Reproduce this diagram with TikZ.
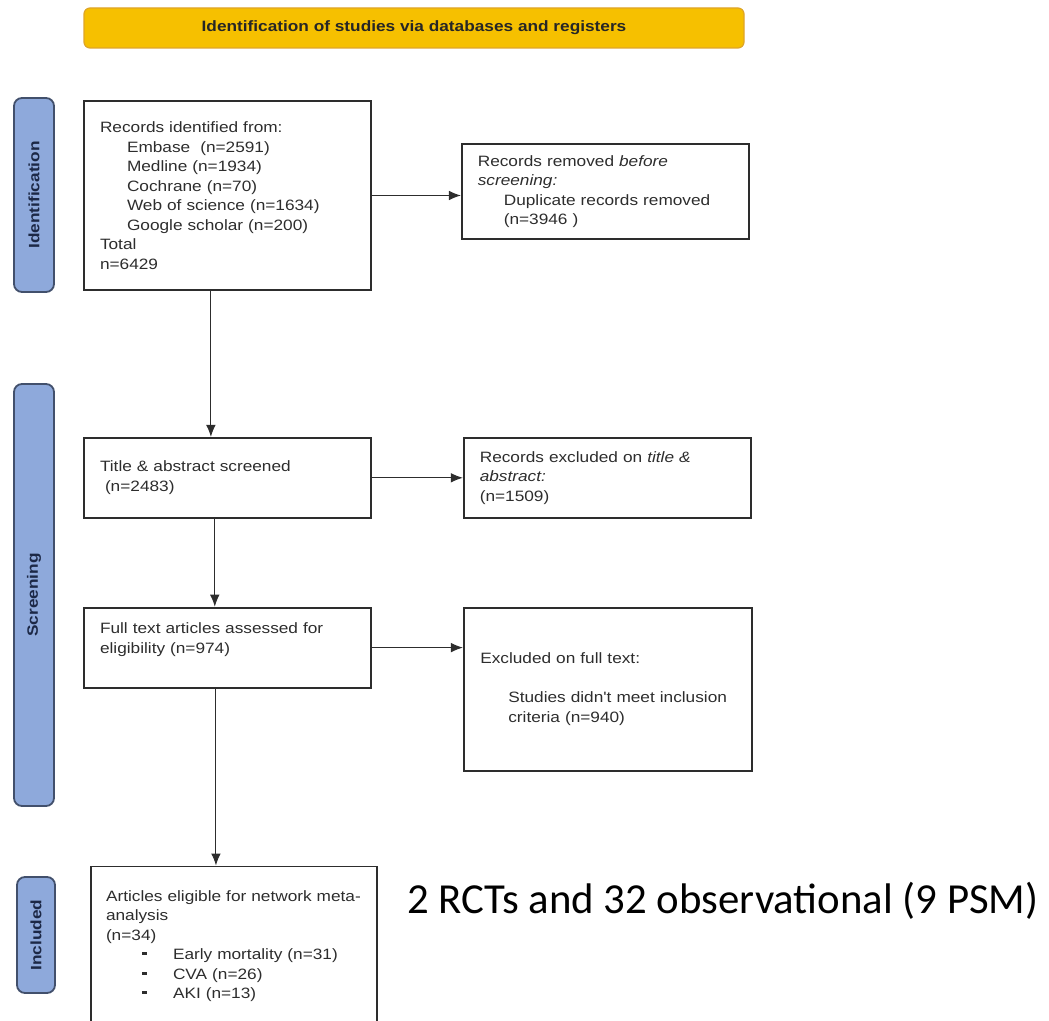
\documentclass[tikz,border=0pt]{standalone}
\usepackage{fontspec}
\newfontfamily\prismafont[FakeStretch=1.15]{Liberation Sans}
\newfontfamily\calfont{Carlito}
\usetikzlibrary{positioning}
\usetikzlibrary{arrows.meta}
\definecolor{bannergold}{RGB}{246,192,0}
\definecolor{bannerrim}{RGB}{222,165,40}
\definecolor{stagefill}{RGB}{142,169,219}
\definecolor{stagerim}{RGB}{66,80,108}
\definecolor{stageink}{RGB}{28,40,70}
\definecolor{boxink}{RGB}{45,45,45}
\newcommand{\dashbul}{\rule[2.2pt]{2.5pt}{1.4pt}\hspace*{13pt}}
\tikzset{every picture/.style={/utils/exec={\prismafont}}}
\tikzset{banner/.style={
          draw=bannerrim, fill=bannergold, rounded corners=3pt, line width=0.6pt,
          minimum width=330pt, minimum height=20pt, text=black!85,
          font=\bfseries\fontsize{7.5}{9}\selectfont
          },
        stage/.style={
          rotate=90, draw=stagerim, fill=stagefill, rounded corners=4pt, line width=0.9pt,
          minimum height=20pt, inner sep=0pt, text=stageink,
          font=\bfseries\fontsize{7.5}{9}\selectfont
          },
        flowbox/.style={
          draw=boxink, line width=0.9pt, minimum width=143.5pt, text width=127.5pt,
          inner xsep=8pt, align=left, text=boxink,
          font=\fontsize{7.5}{9.75}\selectfont
          },
        flowarrow/.style={draw=boxink, line width=0.5pt, -{Latex[length=6pt,width=4.8pt]}},
}
\begin{document}
\begin{tikzpicture}[x=0.5pt, y=-0.5pt]
      \useasboundingbox (0,0) rectangle (1049,1021);
      % HEADER
      \node[banner] (header) at (414,28) {Identification of studies via databases and registers};

      % STAGE BARS
      \node[stage, minimum width=97pt] (identbar) at (34,195) {Identification};
      \node[stage, minimum width=211pt] (screenbar) at (34,595) {Screening};
      \node[stage, minimum width=58pt, minimum height=19pt] (inclbar) at (36,935) {Included};

      % LEFT COLUMN
      \node[flowbox, minimum height=94.5pt] (records) at (227.5,195.5) {Records identified from:\\
        \hspace*{13.5pt}Embase\ \ (n=2591)\\
        \hspace*{13.5pt}Medline (n=1934)\\
        \hspace*{13.5pt}Cochrane (n=70)\\
        \hspace*{13.5pt}Web of science (n=1634)\\
        \hspace*{13.5pt}Google scholar (n=200)\\
        Total\\
        n=6429};
      \node[flowbox, minimum height=40pt, below=73pt of records] (title) {Title \& abstract screened\\
        \ (n=2483)};
      \node[flowbox, minimum height=40pt, below=44pt of title] (full) {Full text articles assessed for\\
        eligibility (n=974)\\ \mbox{}};
      \node[flowbox, minimum width=143pt, text width=128pt, inner xsep=7.5pt, minimum height=79.5pt,
        below=88.5pt of full, xshift=3.25pt] (eligible) {\mbox{Articles eligible for network meta-}\\
        analysis\\
        (n=34)\\
        \hspace*{18pt}\dashbul Early mortality (n=31)\\
        \hspace*{18pt}\dashbul CVA (n=26)\\
        \hspace*{18pt}\dashbul AKI (n=13)};

      % RIGHT COLUMN
      \node[flowbox, minimum height=47.5pt, right=44.5pt of records, yshift=2pt] (removed) {Records removed \textit{before}\\
        \textit{screening:}\\
        \hspace*{13pt}Duplicate records removed\\
        \hspace*{13pt}(n=3946 )};
      \node[flowbox, minimum height=40pt, right=45.5pt of title] (excltitle) {Records excluded on \textit{title \&}\\
        \textit{abstract:}\\
        (n=1509)};
      \node[flowbox, minimum width=144pt, minimum height=81.5pt, right=45.5pt of full.north east, anchor=north west] (exclfull) {Excluded on full text:\\[9.75pt]
        \hspace*{14pt}Studies didn't meet inclusion\\
        \hspace*{14pt}criteria (n=940)};

      % NOTE
      \node[font=\calfont\fontsize{21.4}{25}\selectfont, anchor=west, inner sep=0pt] (summary) at (407,901) {2 RCTs and 32 observational (9 PSM)};

      % ARROWS
      \path (records.south west) -- (records.south east) coordinate[pos=0.4425] (recdrop);
      \path (title.south west) -- (title.south east) coordinate[pos=0.456] (titledrop);
      \path (full.south west) -- (full.south east) coordinate[pos=0.46] (fulldrop);

      \draw[flowarrow] (records.east) -- (records.east -| removed.west);
      \draw[flowarrow] (title.east) -- (excltitle.west);
      \draw[flowarrow] (full.east) -- (full.east -| exclfull.west);
      \draw[flowarrow] (recdrop) -- (recdrop |- title.north);
      \draw[flowarrow] (titledrop) -- (titledrop |- full.north);
      \draw[flowarrow] (fulldrop) -- (fulldrop |- eligible.north);
\end{tikzpicture}
\end{document}
